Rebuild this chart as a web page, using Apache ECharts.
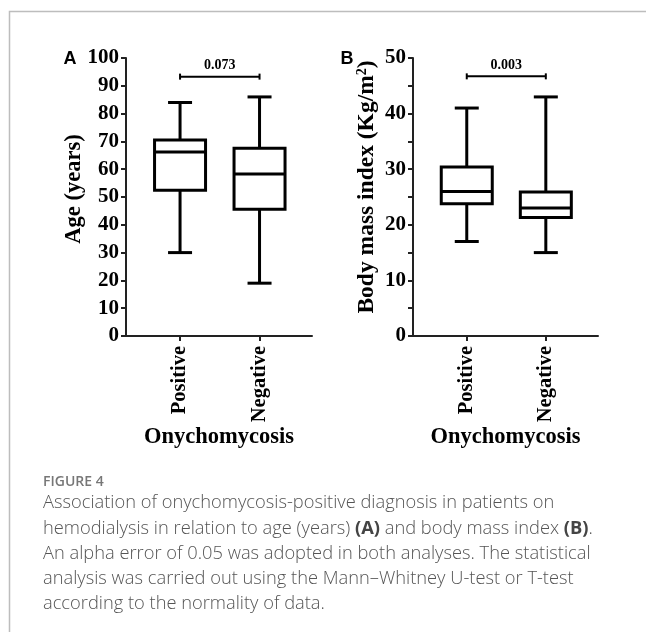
<!DOCTYPE html>
<html>
<head>
<meta charset="utf-8">
<script src="https://cdn.jsdelivr.net/npm/echarts@6/dist/echarts.min.js"></script>
<style>
html,body{margin:0;padding:0;background:#fff;}
#main{width:646px;height:632px;}
</style>
</head>
<body>
<div id="main"></div>
<script>
// groups on the x axis
const GROUPS = ['Positive', 'Negative'];
// [min, Q1, median, Q3, max]
const AGE_POS = [30, 52.4, 66.2, 70.5, 84];
const AGE_NEG = [19, 45.6, 58.3, 67.5, 86];
const BMI_POS = [17, 23.8, 26, 30.4, 41];
const BMI_NEG = [15, 21.3, 23, 25.9, 43];
// p values and bracket heights
const AGE_P = '0.073';
const BMI_P = '0.003';
const AGE_BRACKET = 93.3;
const BMI_BRACKET = 46.7;

const SERIF = '"Liberation Serif", "Times New Roman", serif';
const SANS = '"Open Sans", "Noto Sans", sans-serif';
const BOX_W = 51;
const CAP_W = 24;
const LW = 3;

const chart = echarts.init(document.getElementById('main'));

function boxItem(params, api) {
  const x = api.value(0);
  const p = [1, 2, 3, 4, 5].map(i => api.coord([x, api.value(i)]));
  const cx = p[0][0];
  const hw = BOX_W / 2, cw = CAP_W / 2;
  const ls = {stroke: '#000', lineWidth: LW, fill: null};
  return {
    type: 'group',
    children: [
      {type: 'line', shape: {x1: cx, y1: p[0][1], x2: cx, y2: p[1][1]}, style: ls},
      {type: 'line', shape: {x1: cx, y1: p[3][1], x2: cx, y2: p[4][1]}, style: ls},
      {type: 'line', shape: {x1: cx - cw, y1: p[0][1], x2: cx + cw, y2: p[0][1]}, style: ls},
      {type: 'line', shape: {x1: cx - cw, y1: p[4][1], x2: cx + cw, y2: p[4][1]}, style: ls},
      {type: 'rect', shape: {x: cx - hw, y: p[3][1], width: BOX_W, height: p[1][1] - p[3][1]},
        style: {stroke: '#000', lineWidth: LW, fill: '#fff'}},
      {type: 'line', shape: {x1: cx - hw, y1: p[2][1], x2: cx + hw, y2: p[2][1]}, style: ls}
    ]
  };
}

function bracketItem(label) {
  return function (params, api) {
    const a = api.coord([api.value(0), api.value(2)]);
    const b = api.coord([api.value(1), api.value(2)]);
    const ls = {stroke: '#000', lineWidth: 2, fill: null};
    return {
      type: 'group',
      children: [
        {type: 'line', shape: {x1: a[0], y1: a[1], x2: b[0], y2: b[1]}, style: ls},
        {type: 'line', shape: {x1: a[0], y1: a[1] - 3, x2: a[0], y2: a[1] + 3}, style: ls},
        {type: 'line', shape: {x1: b[0], y1: b[1] - 3, x2: b[0], y2: b[1] + 3}, style: ls},
        {type: 'text', x: (a[0] + b[0]) / 2, y: a[1] - 11,
          style: {text: label, fill: '#000', font: 'bold 14px ' + SERIF, align: 'center', verticalAlign: 'middle'}}
      ]
    };
  };
}

function xAxisCfg(idx) {
  return {
    gridIndex: idx, type: 'value', min: 0.32, max: 2.66,
    axisLine: {show: true, onZero: false, lineStyle: {color: '#222', width: 2}},
    axisTick: {show: true, length: 5, customValues: [1, 2], lineStyle: {color: '#222', width: 2}},
    axisLabel: {customValues: [1, 2], rotate: 90, margin: 10, color: '#000',
      fontFamily: SERIF, fontWeight: 'bold', fontSize: 20.5,
      formatter: v => GROUPS[Math.round(v) - 1] || ''},
    splitLine: {show: false},
    name: 'Onychomycosis', nameLocation: 'middle', nameGap: 88,
    nameTextStyle: {color: '#000', fontFamily: SERIF, fontWeight: 'bold', fontSize: 22.5}
  };
}

function yAxisCfg(idx, max, interval, labelStep) {
  return {
    gridIndex: idx, type: 'value', min: 0, max: max, interval: interval,
    axisLine: {show: true, onZero: false, lineStyle: {color: '#222', width: 2}},
    axisTick: {show: true, length: 5, lineStyle: {color: '#222', width: 2}},
    axisLabel: {color: '#000', fontFamily: SERIF, fontWeight: 'bold', fontSize: 21, margin: 7,
      formatter: v => (v % labelStep === 0 ? String(v) : '')},
    splitLine: {show: false}
  };
}

const captionLines = [
  'Association of onychomycosis-positive diagnosis in patients on',
  'hemodialysis in relation to age (years) {b|(A)} and body mass index {b|(B)}.',
  'An alpha error of 0.05 was adopted in both analyses. The statistical',
  'analysis was carried out using the Mann\u2013Whitney U-test or T-test',
  'according to the normality of data.'
];

const graphics = [
  {type: 'polyline', shape: {points: [[9.5, 632], [9.5, 11.5], [646, 11.5]]},
    style: {stroke: '#bdbdbd', lineWidth: 1.5, fill: null}},
  {type: 'text', x: 70, y: 59, style: {text: 'A', fill: '#000', font: 'bold 18px "Liberation Sans", Arial, sans-serif', align: 'center', verticalAlign: 'middle'}},
  {type: 'text', x: 347, y: 59, style: {text: 'B', fill: '#000', font: 'bold 18px "Liberation Sans", Arial, sans-serif', align: 'center', verticalAlign: 'middle'}},
  {type: 'text', x: 74, y: 189, rotation: Math.PI / 2,
    style: {text: 'Age (years)', fill: '#000', font: 'bold 22.5px ' + SERIF, align: 'center', verticalAlign: 'middle'}},
  {type: 'text', x: 367, y: 187, rotation: Math.PI / 2,
    style: {text: 'Body mass index (Kg/m{sup|2})', fill: '#000', fontFamily: SERIF, fontWeight: 'bold', fontSize: 23.5,
      align: 'center', verticalAlign: 'middle',
      rich: {sup: {fontFamily: SERIF, fontWeight: 'bold', fontSize: 14, verticalAlign: 'top', fill: '#000'}}}},
  {type: 'text', x: 43, y: 482, style: {text: 'FIGURE 4', fill: '#777', fontFamily: SANS, fontWeight: 600, fontSize: 14, verticalAlign: 'middle'}}
];
captionLines.forEach((t, i) => {
  graphics.push({type: 'text', x: 43, y: 503 + i * 25.3,
    style: {text: t, fill: '#555', fontFamily: SANS, fontWeight: 300, fontSize: 18.3, verticalAlign: 'middle',
      rich: {b: {fontFamily: SANS, fontSize: 18.3, fontWeight: 'bold', fill: '#444'}}}});
});

chart.setOption({
  animation: false,
  grid: [
    {left: 126, top: 58, width: 186, height: 278},
    {left: 413, top: 58, width: 185, height: 278}
  ],
  xAxis: [xAxisCfg(0), xAxisCfg(1)],
  yAxis: [yAxisCfg(0, 100, 10, 10), yAxisCfg(1, 50, 5, 10)],
  series: [
    {type: 'custom', xAxisIndex: 0, yAxisIndex: 0, renderItem: boxItem, clip: false,
      encode: {x: 0, y: [1, 2, 3, 4, 5]},
      data: [[1].concat(AGE_POS), [2].concat(AGE_NEG)]},
    {type: 'custom', xAxisIndex: 0, yAxisIndex: 0, renderItem: bracketItem(AGE_P), clip: false,
      encode: {x: [0, 1], y: 2}, data: [[1, 2, AGE_BRACKET]]},
    {type: 'custom', xAxisIndex: 1, yAxisIndex: 1, renderItem: boxItem, clip: false,
      encode: {x: 0, y: [1, 2, 3, 4, 5]},
      data: [[1].concat(BMI_POS), [2].concat(BMI_NEG)]},
    {type: 'custom', xAxisIndex: 1, yAxisIndex: 1, renderItem: bracketItem(BMI_P), clip: false,
      encode: {x: [0, 1], y: 2}, data: [[1, 2, BMI_BRACKET]]}
  ],
  graphic: graphics
});
</script>
</body>
</html>
